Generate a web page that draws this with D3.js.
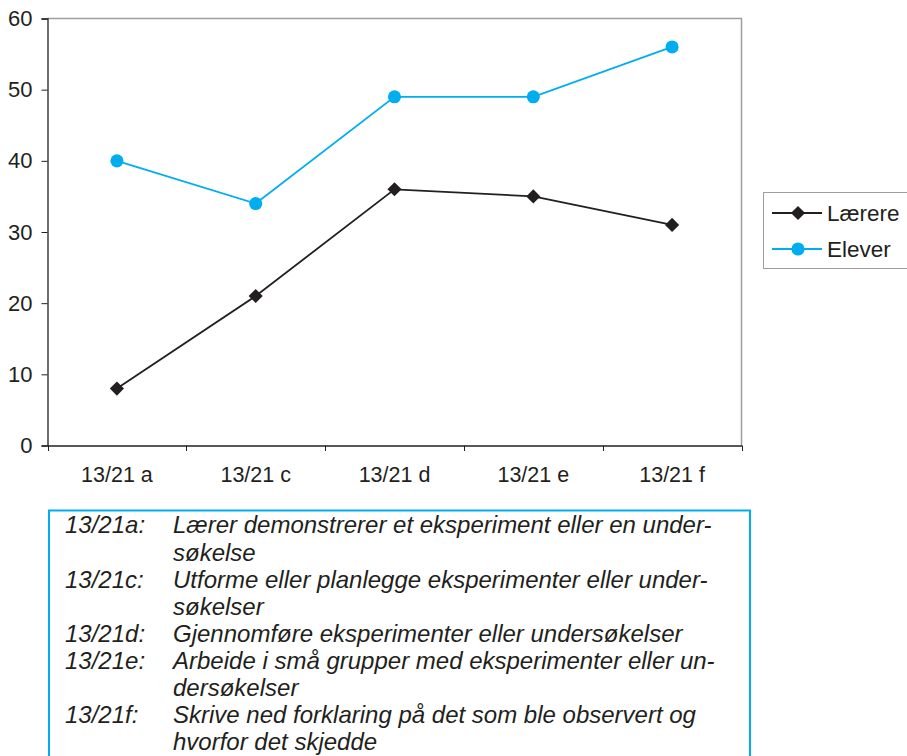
<!DOCTYPE html>
<html>
<head>
<meta charset="utf-8">
<script src="https://cdn.jsdelivr.net/npm/d3@7"></script>
<style>
	body { margin: 0; background: #fff; }
	svg { display: block; font-family: "Liberation Sans", Arial, sans-serif; }
</style>
</head>
<body>
<div id="contents"></div>
<script>
var categories = ["13/21 a", "13/21 c", "13/21 d", "13/21 e", "13/21 f"];
var laerere = [8, 21, 36, 35, 31];
var elever = [40, 34, 49, 49, 56];
var yTicks = [0, 10, 20, 30, 40, 50, 60];
var seriesNames = ["Lærere", "Elever"];
var noteKeys = ["13/21a:", "13/21c:", "13/21d:", "13/21e:", "13/21f:"];
var noteLines = [
	["Lærer demonstrerer et eksperiment eller en under-", "søkelse"],
	["Utforme eller planlegge eksperimenter eller under-", "søkelser"],
	["Gjennomføre eksperimenter eller undersøkelser"],
	["Arbeide i små grupper med eksperimenter eller un-", "dersøkelser"],
	["Skrive ned forklaring på det som ble observert og", "hvorfor det skjedde"]
];

var Apl = function() {
	this.ink = "#231f20";
	this.blue = "#00aeef";
	this.svg = d3.select("#contents")
		.append("svg")
		.attr("width", 907)
		.attr("height", 756);
	this.x = d3.scaleBand().domain(categories).range([47.5, 741.5]);
	this.y = d3.scaleLinear().domain([0, 60]).range([445.5, 18.5]);
};

Apl.prototype.axes = function() {
	var svg = this.svg, x = this.x, y = this.y;

	// plot frame (gray top/right)
	svg.append("path")
		.attr("d", "M47.5,18.5H741.5V445.5")
		.attr("fill", "none")
		.attr("stroke", "#9d9fa2")
		.attr("stroke-width", 1.5);

	var ya = svg.append("g")
		.attr("transform", "translate(47.5,0)")
		.call(d3.axisLeft(y).tickValues(yTicks).tickSize(6).tickPadding(9));
	ya.select(".domain").attr("stroke", this.ink).attr("stroke-width", 1.3);
	ya.selectAll(".tick line").attr("stroke", this.ink);
	ya.selectAll("text").attr("font-size", 22).attr("fill", this.ink)
		.attr("font-family", "Liberation Sans, Arial, sans-serif");

	var xa = svg.append("g")
		.attr("transform", "translate(0,445.5)")
		.call(d3.axisBottom(x).tickSize(0).tickPadding(21));
	xa.select(".domain").attr("stroke", this.ink).attr("stroke-width", 1.3);
	xa.selectAll("text").attr("font-size", 21.5).attr("fill", this.ink)
		.attr("font-family", "Liberation Sans, Arial, sans-serif");

	// ticks at band edges
	var edges = categories.map(function(c) { return x(c); }).concat([x.range()[1]]);
	svg.append("g").selectAll("line")
		.data(edges)
		.enter()
		.append("line")
		.attr("x1", function(d) { return Math.round(d) + 0.5; })
		.attr("x2", function(d) { return Math.round(d) + 0.5; })
		.attr("y1", 445.5)
		.attr("y2", 451)
		.attr("stroke", this.ink);
};

Apl.prototype.series = function(values, color, shape) {
	var x = this.x, y = this.y;
	var line = d3.line()
		.x(function(d, i) { return x(categories[i]) + x.bandwidth() / 2; })
		.y(function(d) { return y(d); });

	this.svg.append("path")
		.datum(values)
		.attr("d", line)
		.attr("fill", "none")
		.attr("stroke", color)
		.attr("stroke-width", 1.8);

	var sym = d3.symbol().type(shape == "diamond" ? d3.symbolSquare : d3.symbolCircle)
		.size(shape == "diamond" ? 100 : 135);

	this.svg.append("g").selectAll("path")
		.data(values)
		.enter()
		.append("path")
		.attr("d", sym)
		.attr("transform", function(d, i) {
			var t = "translate(" + (x(categories[i]) + x.bandwidth() / 2) + "," + y(d) + ")";
			return shape == "diamond" ? t + " rotate(45)" : t;
		})
		.attr("fill", color);
};

Apl.prototype.legend = function() {
	var svg = this.svg;
	var colors = [this.ink, this.blue];
	var shapes = ["diamond", "circle"];

	svg.append("rect")
		.attr("x", 763.5)
		.attr("y", 192.5)
		.attr("width", 160)
		.attr("height", 76)
		.attr("fill", "#fff")
		.attr("stroke", "#9d9fa2")
		.attr("stroke-width", 1);

	var g = svg.append("g").selectAll("g")
		.data(seriesNames)
		.enter()
		.append("g")
		.attr("transform", function(d, i) { return "translate(0," + (213 + i * 36) + ")"; });

	g.append("line")
		.attr("x1", 772).attr("x2", 822)
		.attr("stroke", function(d, i) { return colors[i]; })
		.attr("stroke-width", 1.8);

	g.append("path")
		.attr("d", function(d, i) {
			return d3.symbol().type(shapes[i] == "diamond" ? d3.symbolSquare : d3.symbolCircle)
				.size(shapes[i] == "diamond" ? 100 : 135)();
		})
		.attr("transform", function(d, i) {
			return "translate(798,0)" + (shapes[i] == "diamond" ? " rotate(45)" : "");
		})
		.attr("fill", function(d, i) { return colors[i]; });

	g.append("text")
		.attr("x", 827)
		.attr("dy", "0.35em")
		.attr("font-size", 22.5)
		.attr("fill", this.ink)
		.text(function(d) { return d; });
};

Apl.prototype.notes = function() {
	var svg = this.svg, ink = this.ink;

	svg.append("rect")
		.attr("x", 49)
		.attr("y", 510.5)
		.attr("width", 701)
		.attr("height", 260)
		.attr("fill", "none")
		.attr("stroke", this.blue)
		.attr("stroke-width", 2);

	var row = 0;
	noteKeys.forEach(function(key, i) {
		svg.append("text")
			.attr("x", 65)
			.attr("y", 525 + row * 27.1)
			.attr("dy", "0.35em")
			.attr("font-size", 24)
			.attr("font-style", "italic")
			.attr("fill", ink)
			.text(key);
		noteLines[i].forEach(function(t) {
			svg.append("text")
				.attr("x", 173)
				.attr("y", 525 + row * 27.1)
				.attr("dy", "0.35em")
				.attr("font-size", 24)
				.attr("font-style", "italic")
				.attr("fill", ink)
				.text(t);
			row++;
		});
	});
};

(function() {
	var apl = new Apl();
	apl.axes();
	apl.series(laerere, apl.ink, "diamond");
	apl.series(elever, apl.blue, "circle");
	apl.legend();
	apl.notes();
})();
</script>
</body>
</html>
